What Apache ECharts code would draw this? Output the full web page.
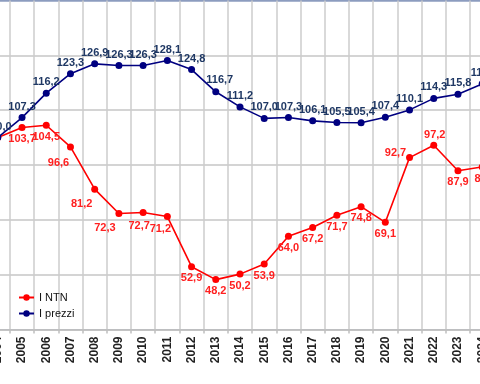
<!DOCTYPE html>
<html>
<head>
<meta charset="utf-8">
<script src="https://cdn.jsdelivr.net/npm/echarts@6/dist/echarts.min.js"></script>
<style>html,body{margin:0;padding:0;background:#fff}#c{width:480px;height:384px}</style>
</head>
<body>
<div id="c"></div>
<script>
var years = ['2004','2005','2006','2007','2008','2009','2010','2011','2012','2013','2014','2015','2016','2017','2018','2019','2020','2021','2022','2023','2024'];
var ntn = [100.0,103.7,104.5,96.6,81.2,72.3,72.7,71.2,52.9,48.2,50.2,53.9,64.0,67.2,71.7,74.8,69.1,92.7,97.2,87.9,89.3];
var prezzi = [100.0,107.3,116.2,123.3,126.9,126.3,126.3,128.1,124.8,116.7,111.2,107.0,107.3,106.1,105.5,105.4,107.4,110.1,114.3,115.8,119.6];
var yTicks = [30,50,70,90,110,130,150];

var FONT = '"Liberation Sans Narrow","Liberation Sans",Arial,sans-serif';
function fmt(v){ return v.toFixed(1).replace('.', ','); }

// label placement (style only, not data)
var redOffsets = {'2007':[-12,16],'2008':[-13,15],'2009':[-14,14],'2010':[-4,14],'2011':[-7,12],'2021':[-14,-5],'2022':[1,-10],'2024':[3,12]};
var blueOffsets = {'2013':[4,-12],'2024':[2,-11]};

var redData = ntn.map(function(v,i){
  var y = years[i];
  var off = redOffsets[y] || [0,11.5];
  return {value:v, label:{show: i!==0, offset: off}};
});
var blueData = prezzi.map(function(v,i){
  var y = years[i];
  var off = blueOffsets[y] || [0,-11];
  return {value:v, label:{offset: off}};
});

var chart = echarts.init(document.getElementById('c'), null, {renderer:'canvas'});
chart.setOption({
  animation:false,
  backgroundColor:'#ffffff',
  grid:{left:-14.3, right:-14.3, top:0.5, bottom:54.5, show:true, borderColor:'#8d9cbf', borderWidth:1, outerBoundsMode:'none', containLabel:false},
  legend:{
    orient:'vertical', left:13, top:287, itemWidth:15, itemHeight:8, itemGap:5,
    textStyle:{fontFamily:FONT, fontSize:11, color:'#111'},
    data:['I NTN','I prezzi']
  },
  xAxis:{
    type:'category', data:years, boundaryGap:true,
    axisLine:{lineStyle:{color:'#bfbfbf', width:1.5}},
    axisTick:{show:true, length:4, lineStyle:{color:'#bfbfbf', width:1.5}},
    splitLine:{show:true, lineStyle:{color:'#cccccc', width:1.5}},
    axisLabel:{interval:0, rotate:90, margin:7, fontFamily:FONT, fontWeight:'bold', fontSize:12, color:'#222'}
  },
  yAxis:{
    type:'value', min:yTicks[0], max:yTicks[yTicks.length-1], interval:20,
    axisLine:{show:false}, axisTick:{show:false}, axisLabel:{show:false},
    splitLine:{show:true, lineStyle:{color:['#c6c6c6','#c6c6c6','#c6c6c6','#c6c6c6','#c6c6c6','#c6c6c6','#8d9cbf'], width:1.5}}
  },
  series:[
    {
      name:'I NTN', type:'line', data:redData,
      symbol:'circle', symbolSize:7, color:'#ff0000',
      lineStyle:{color:'#ff0000', width:1.6},
      itemStyle:{color:'#ff0000'},
      label:{show:true, position:'inside', formatter:function(p){return fmt(p.value);}, fontFamily:FONT, fontWeight:'bold', fontSize:11, color:'#ff2020'},
      z:3
    },
    {
      name:'I prezzi', type:'line', data:blueData,
      symbol:'circle', symbolSize:7, color:'#000080',
      lineStyle:{color:'#000080', width:1.6},
      itemStyle:{color:'#000080'},
      label:{show:true, position:'inside', formatter:function(p){return fmt(p.value);}, fontFamily:FONT, fontWeight:'bold', fontSize:11, color:'#1f3864'},
      z:4
    }
  ]
});
</script>
</body>
</html>
